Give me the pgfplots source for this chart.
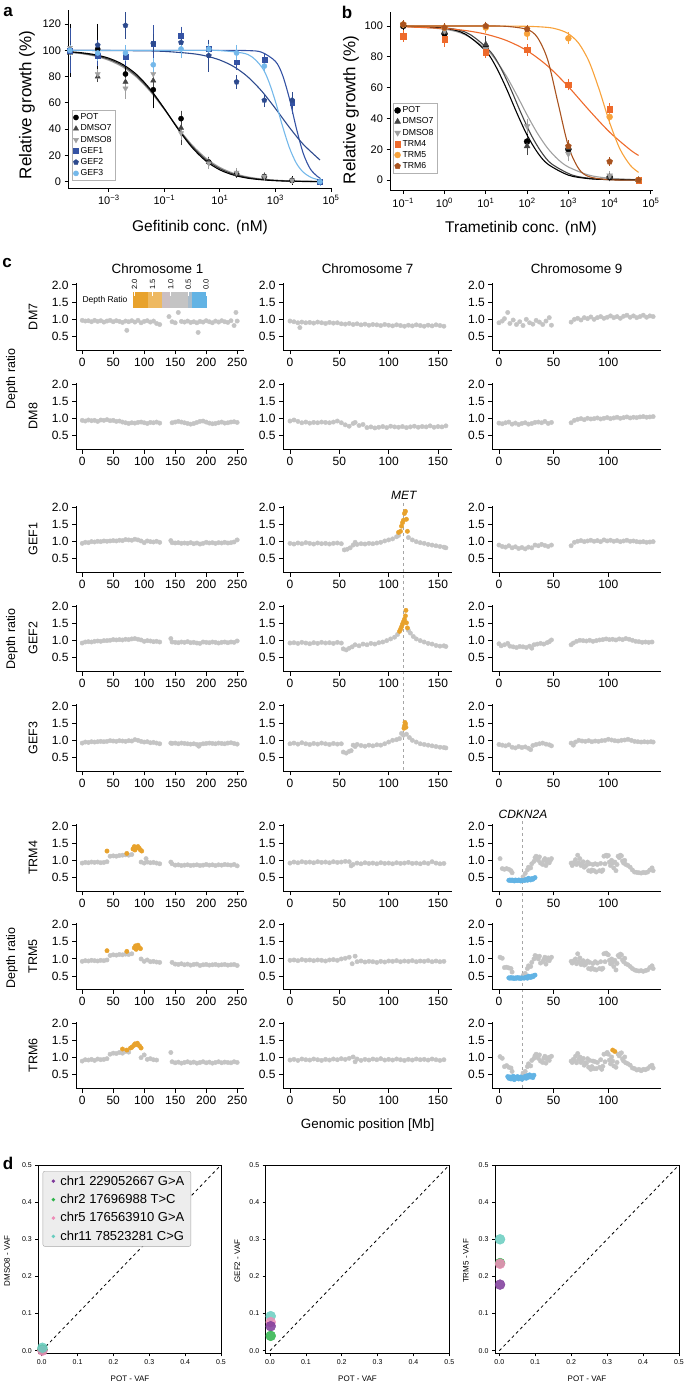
\documentclass[border=0pt]{standalone}
\usepackage{fontspec}
\setmainfont{Liberation Sans}
\usepackage{pgfplots}
\pgfplotsset{compat=1.18}
\usetikzlibrary{plotmarks}

\definecolor{cgray}{HTML}{C4C4C4}
\definecolor{camp}{HTML}{E8A22C}
\definecolor{cdel}{HTML}{62B3E4}
\definecolor{cbpink}{HTML}{CBBFC3}
\definecolor{cbgb}{HTML}{A8BCCB}
\definecolor{dmsoA}{HTML}{444444}
\definecolor{dmsoB}{HTML}{A0A0A0}
\definecolor{gefA}{HTML}{3553A4}
\definecolor{gefB}{HTML}{2D4A8E}
\definecolor{gefC}{HTML}{74B8EA}
\definecolor{trmA}{HTML}{EE6A2B}
\definecolor{trmB}{HTML}{F8A23A}
\definecolor{trmC}{HTML}{A9531F}
\definecolor{dpurple}{HTML}{7E3A9A}
\definecolor{dgreen}{HTML}{2DB34A}
\definecolor{dpink}{HTML}{EE8DB8}
\definecolor{dteal}{HTML}{68CDBF}

\pgfplotsset{
  /pgf/number format/assume math mode=true,
  every axis/.append style={scale only axis, anchor=south west},
  curve/.style={smooth, line width=1.1pt, forget plot, mark=none},
  eb/.style={error bars/.cd, y dir=both, y explicit,
    error bar style={line width=0.8pt}, error mark options={line width=0.8pt, mark size=2.8pt}},
  dr/.style={axis lines=left, axis line style={-, line width=1pt},
    tick align=outside, major tick length=4pt, every tick/.style={black, line width=0.9pt},
    height=67.1pt, ymin=0.1, ymax=2.05, ytick={0.5,1,1.5,2},
    ticklabel style={font=\fontsize{12}{13}\selectfont},
    yticklabel style={/pgf/number format/fixed, /pgf/number format/fixed zerofill, /pgf/number format/precision=1}},
  c1/.style={width=168pt, xmin=-10, xmax=261, xtick={0,50,...,250}},
  c7/.style={width=169.3pt, xmin=-7.1, xmax=164.5, xtick={0,50,100,150}},
  c9/.style={width=168.7pt, xmin=-6.1, xmax=148.2, xtick={0,50,100}},
  gr/.style={only marks, mark=*, mark size=2.2pt, color=cgray},
  amp/.style={only marks, mark=*, mark size=2.2pt, color=camp},
  del/.style={only marks, mark=*, mark size=2.2pt, color=cdel},
  vaf/.style={axis lines=box, axis line style={line width=0.7pt}, tick align=outside,
    xtick pos=lower, ytick pos=left, major tick length=3pt, every tick/.style={black, line width=0.6pt},
    height=188.3pt, ymin=-0.007, ymax=0.5, xmax=0.5,
    xtick={0,0.1,0.2,0.3,0.4,0.5}, ytick={0,0.1,0.2,0.3,0.4,0.5},
    ticklabel style={font=\fontsize{7}{8}\selectfont, /pgf/number format/fixed, /pgf/number format/fixed zerofill, /pgf/number format/precision=1}},
  pt/.style={only marks, mark=*, mark size=5pt, opacity=0.85},
  dleg/.style={legend image code/.code={\path[draw=none, fill=none] (0,-1pt) rectangle (1.1em,1pt); \fill[#1, draw=none, opacity=1, fill opacity=1] (0.45em,0) circle (1.9pt);}},
  drc/.style={axis lines=left, axis line style={-, line width=1pt},
    tick align=outside, major tick length=3.5pt, every tick/.style={black, line width=0.9pt},
    ticklabel style={font=\fontsize{11}{12}\selectfont},
    legend style={font=\fontsize{8.7}{9}\selectfont, draw=black!30, row sep=-0.4pt, inner sep=1.5pt},
    legend cell align=left},
}

\begin{document}
\begin{tikzpicture}[x=1pt,y=1pt]
\useasboundingbox (0,0) rectangle (685,-1384);

% ---------------- panel a ----------------
\node[font=\fontsize{17}{17}\bfseries\selectfont] at (8,-12) {a};
\begin{axis}[drc, at={(68pt,-188.3pt)}, width=263pt, height=178.3pt,
  xmin=-4.47, xmax=5.0, ymin=-5.0, ymax=130.7,
  xtick={-3,-1,1,3,5}, xticklabels={10\textsuperscript{−3},10\textsuperscript{−1},10\textsuperscript{1},10\textsuperscript{3},10\textsuperscript{5}},
  ytick={0,20,...,120},
  legend style={at={(0.014,0.439)}, anchor=north west}]
\addplot[curve, dmsoB] coordinates {(-4.4,98.4)(-4,97.5)(-3.5,95.6)(-3,92.4)(-2.5,87.3)(-2,79.5)(-1.5,68.5)(-1,55.0)(-0.5,40.8)(0,27.9)(0.5,17.9)(1,10.9)(1.5,6.4)(2,3.7)(2.5,2.1)(3,1.2)(3.5,0.7)(4,0.4)(4.6,0.2)};
\addplot[curve, dmsoA] coordinates {(-4.4,98.6)(-4,97.8)(-3.5,96.1)(-3,93.2)(-2.5,88.3)(-2,80.5)(-1.5,69.3)(-1,55.3)(-0.5,40.3)(0,27.0)(0.5,16.8)(1,10.0)(1.5,5.7)(2,3.2)(2.5,1.8)(3,1.0)(3.5,0.5)(4,0.3)(4.6,0.1)};
\addplot[curve, black] coordinates {(-4.4,98.9)(-4,98.2)(-3.5,96.7)(-3,94.0)(-2.5,89.3)(-2,81.6)(-1.5,70.2)(-1,55.6)(-0.5,39.9)(0,26.0)(0.5,15.7)(1,9.0)(1.5,5.0)(2,2.7)(2.5,1.5)(3,0.8)(3.5,0.4)(4,0.2)(4.6,0.1)};
\addplot[curve, gefA] coordinates {(-4.4,100)(0,100)(1,100)(2,99.8)(2.5,98.6)(3,91.6)(3.25,81.4)(3.5,63.5)(3.75,40.9)(4,21.6)(4.25,9.9)(4.5,4.2)(4.6,2.9)};
\addplot[curve, gefB] coordinates {(-4.4,100)(-2,99.7)(-1,99.2)(0,97.5)(0.5,95.7)(1,92.6)(1.5,87.6)(2,79.9)(2.5,69.1)(3,55.7)(3.5,41.4)(4,28.5)(4.6,16.6)};
\addplot[curve, gefC] coordinates {(-4.4,100)(0,100)(1,99.8)(2,96.9)(2.5,87.5)(2.75,76.8)(3,61.0)(3.25,42.6)(3.5,26.0)(3.75,14.2)(4,7.3)(4.3,3.1)(4.6,1.3)};
\addplot[only marks, mark=*, mark size=2.6pt, black, eb] coordinates {(-4.4,100)+-(0,18)(-3.4,101)+-(0,17)(-2.4,82)+-(0,5)(-1.4,70)+-(0,12)(-0.4,48)+-(0,4)(0.6,15)+-(0,2)(1.6,6)+-(0,1)(2.6,4)+-(0,1)(3.6,1)+-(0,1)(4.6,0)+-(0,0.5)};
\addlegendentry{POT}
\addplot[only marks, mark=triangle*, mark size=3pt, dmsoA, eb] coordinates {(-4.4,98)+-(0,6)(-3.4,80)+-(0,2)(-2.4,76)+-(0,4)(-1.4,77)+-(0,5)(-0.4,41)+-(0,11)(0.6,15)+-(0,2)(1.6,6)+-(0,1)(2.6,4)+-(0,1)(3.6,1)+-(0,0.5)(4.6,0)+-(0,0.5)};
\addlegendentry{DMSO7}
\addplot[only marks, mark=triangle*, mark size=3pt, mark options={rotate=180}, dmsoB, eb] coordinates {(-4.4,102)+-(0,4)(-3.4,82)+-(0,2)(-2.4,71)+-(0,6)(-1.4,82)+-(0,3)(-0.4,37)+-(0,3)(0.6,14)+-(0,2)(1.6,7)+-(0,1)(2.6,4)+-(0,1)(3.6,1)+-(0,0.5)(4.6,0)+-(0,0.5)};
\addlegendentry{DMSO8}
\addplot[only marks, mark=square*, mark size=2.4pt, gefA, eb] coordinates {(-4.4,100)+-(0,15)(-3.4,96)+-(0,6)(-2.4,95)+-(0,5)(-1.4,105)+-(0,12)(-0.4,111)+-(0,5)(0.6,101)+-(0,4)(1.6,91)+-(0,4)(2.6,93)+-(0,2)(3.6,60)+-(0,6)(4.6,0)+-(0,1)};
\addlegendentry{GEF1}
\addplot[only marks, mark=pentagon*, mark size=2.7pt, gefB, eb] coordinates {(-4.4,100)+-(0,5)(-3.4,104)+-(0,2)(-2.4,119)+-(0,8)(-1.4,105)+-(0,5)(-0.4,106)+-(0,4)(0.6,96)+-(0,10)(1.6,76)+-(0,3)(2.6,62)+-(0,3)(3.6,62)+-(0,4)(4.6,0)+-(0,1)};
\addlegendentry{GEF2}
\addplot[only marks, mark=*, mark size=2.6pt, gefC, eb] coordinates {(-4.4,100)+-(0,2)(-3.4,98)+-(0,4)(-2.4,98)+-(0,4)(-1.4,89)+-(0,3)(-0.4,101)+-(0,5)(0.6,101)+-(0,2)(1.6,98)+-(0,4)(2.6,88)+-(0,2)(4.6,0)+-(0,1)};
\addlegendentry{GEF3}
\end{axis}
\node[rotate=90, font=\fontsize{17}{17}\selectfont] at (27,-105) {Relative growth (\%)};
\node[font=\fontsize{15.5}{15.5}\selectfont] at (200,-227) {Gefitinib conc. (nM)};

% ---------------- panel b ----------------
\node[font=\fontsize{17}{17}\bfseries\selectfont] at (347,-12) {b};
\begin{axis}[drc, at={(390pt,-190.7pt)}, width=263pt, height=178.7pt,
  xmin=-1.32, xmax=5.05, ymin=-6.9, ymax=109.1,
  xtick={-1,0,1,2,3,4,5}, xticklabels={10\textsuperscript{−1},10\textsuperscript{0},10\textsuperscript{1},10\textsuperscript{2},10\textsuperscript{3},10\textsuperscript{4},10\textsuperscript{5}},
  ytick={0,20,...,100},
  legend style={at={(0.011,0.491)}, anchor=north west}]
\addplot[curve, dmsoB] coordinates {(-1,99.9)(0,97.9)(0.5,94.3)(1,85.3)(1.25,77.6)(1.5,67.4)(1.75,55.2)(2,42.3)(2.25,30.4)(2.5,20.6)(2.75,13.4)(3,8.5)(3.5,3.2)(4,1.2)(4.7,0.3)};
\addplot[curve, dmsoA] coordinates {(-1,99.9)(0.1,98.5)(0.6,94.8)(1.1,83.8)(1.35,73.4)(1.6,59.4)(1.85,43.7)(2.1,29.2)(2.35,18.0)(2.6,10.4)(3.1,3.2)(3.6,0.9)(4.1,0.3)(4.7,0.1)};
\addplot[curve, black] coordinates {(-1,99.9)(0,98.5)(0.5,94.8)(1,83.8)(1.25,73.4)(1.5,59.4)(1.75,43.7)(2,29.2)(2.25,18.0)(2.5,10.4)(3,3.2)(3.5,0.9)(4,0.3)(4.7,0.1)};
\addplot[curve, trmA] coordinates {(-1,99.5)(0,98.4)(0.5,97.1)(1,94.7)(1.5,90.6)(2,84.0)(2.5,74.0)(3,60.6)(3.5,45.4)(4,31.1)(4.5,19.6)(4.7,16.0)};
\addplot[curve, trmB] coordinates {(-1,100)(1,100)(2,99.8)(2.5,99.1)(2.75,97.8)(3,95.0)(3.25,88.8)(3.5,77.0)(3.75,58.5)(4,37.3)(4.25,20.1)(4.5,9.6)(4.7,5.0)};
\addplot[curve, trmC] coordinates {(-1,100)(1,100)(1.5,99.8)(2,97.8)(2.25,92.6)(2.5,78.0)(2.75,50.0)(3,22.0)(3.25,7.4)(3.5,2.2)(4,0.2)(4.7,0)};
\addplot[only marks, mark=*, mark size=3pt, black, eb] coordinates {(-1,100)+-(0,1)(0,95)+-(0,2)(1,86)+-(0,3)(2,25)+-(0,3)(3,20)+-(0,2)(4,2)+-(0,1)(4.7,0)+-(0,0.5)};
\addlegendentry{POT}
\addplot[only marks, mark=triangle*, mark size=3.4pt, dmsoA, eb] coordinates {(-1,101)+-(0,1)(0,96)+-(0,1)(1,88)+-(0,4)(2,22)+-(0,4)(3,21)+-(0,2)(4,2)+-(0,1)(4.7,0)+-(0,0.5)};
\addlegendentry{DMSO7}
\addplot[only marks, mark=triangle*, mark size=3.4pt, mark options={rotate=180}, dmsoB, eb] coordinates {(-1,101)+-(0,1)(0,97)+-(0,2)(1,85)+-(0,2)(2,35)+-(0,3)(3,17)+-(0,3)(4,3)+-(0,1)(4.7,0)+-(0,0.5)};
\addlegendentry{DMSO8}
\addplot[only marks, mark=square*, mark size=2.8pt, trmA, eb] coordinates {(-1,93.5)+-(0,2)(0,91.5)+-(0,3)(1,83)+-(0,2)(2,84.5)+-(0,2)(3,62)+-(0,2)(4,46)+-(0,2)(4.7,0)+-(0,0.5)};
\addlegendentry{TRM4}
\addplot[only marks, mark=*, mark size=3pt, trmB, eb] coordinates {(-1,101)+-(0,1)(0,99)+-(0,1)(1,99)+-(0,2)(2,95)+-(0,2)(3,92)+-(0,2)(4,41)+-(0,3)(4.7,0)+-(0,0.5)};
\addlegendentry{TRM5}
\addplot[only marks, mark=pentagon*, mark size=3.1pt, trmC, eb] coordinates {(-1,101)+-(0,1)(0,99)+-(0,1)(1,100)+-(0,1)(2,98)+-(0,1)(3,22)+-(0,2)(4,12)+-(0,1)(4.7,0)+-(0,0.5)};
\addlegendentry{TRM6}
\end{axis}
\node[rotate=90, font=\fontsize{17}{17}\selectfont] at (351,-110) {Relative growth (\%)};
\node[font=\fontsize{15.5}{15.5}\selectfont] at (521,-228) {Trametinib conc. (nM)};

% ---------------- panel c ----------------
\node[font=\fontsize{17}{17}\bfseries\selectfont] at (7,-263) {c};
\node[font=\fontsize{13.4}{13.4}\selectfont] at (157.5,-269) {Chromosome 1};
\node[font=\fontsize{13.4}{13.4}\selectfont] at (367.6,-269) {Chromosome 7};
\node[font=\fontsize{13.4}{13.4}\selectfont] at (576.6,-269) {Chromosome 9};
\node[font=\fontsize{13.4}{13.4}\selectfont] at (367.6,-1125) {Genomic position [Mb]};
\foreach \yy/\lab in {316.8/DM7,416.1/DM8,539.1/GEF1,638.1/GEF2,737.8/GEF3,857.8/TRM4,956.4/TRM5,1055.1/TRM6}
  \node[rotate=90, font=\fontsize{12.5}{13}\selectfont] at (33,-\yy) {\lab};
\foreach \yy in {379,639,958}
  \node[rotate=90, font=\fontsize{12.5}{13}\selectfont] at (12,-\yy) {Depth ratio};
% gene markers
\draw[black!35, dashed, line width=0.8pt] (403.7,-503) -- (403.7,-771.3);
\draw[black!35, dashed, line width=0.8pt] (522.7,-821) -- (522.7,-1088.6);
\node[font=\fontsize{12}{12}\itshape] at (403.7,-495) {MET};
\node[font=\fontsize{12}{12}\itshape] at (523,-814) {CDKN2A};
% colour key
\node[font=\fontsize{8.5}{9}\selectfont] at (105,-300) {Depth Ratio};
\fill[camp] (133.3,-292.3) rectangle (148,-307.7);
\fill[camp!75!white] (148,-292.3) rectangle (161.7,-307.7);
\fill[cbpink] (161.7,-292.3) rectangle (170,-307.7);
\fill[cgray] (170,-292.3) rectangle (188.3,-307.7);
\fill[cbgb] (188.3,-292.3) rectangle (191.7,-307.7);
\fill[cdel] (191.7,-292.3) rectangle (207.3,-307.7);
\foreach \xx/\tl in {134.5/2.0,152.7/1.5,170.7/1.0,188.3/0.5,206/0.0}{
  \draw[white, line width=0.5pt] (\xx,-292.3) -- (\xx,-296);
  \node[rotate=90, anchor=west, inner sep=0.5pt, font=\fontsize{7.5}{7.5}\selectfont] at (\xx,-290) {\tl};}

% DM7
\begin{axis}[dr, c1, at={(76pt,-350.3pt)}]
\addplot[gr] coordinates {(0,.97)(5,.95)(10,.96)(15,.93)(20,.97)(25,.94)(30,.96)(35,.92)(40,.95)(45,.97)(50,.93)(55,.96)(60,.94)(65,.91)(70,.95)(72,.68)(75,.93)(80,.96)(85,.92)(90,.97)(95,.90)(100,.94)(105,.96)(110,.92)(115,.95)(120,.88)(125,.85)(140,1.08)(145,.93)(150,.90)(155,1.20)(160,.94)(165,.92)(170,.95)(175,.91)(180,.93)(185,.90)(187,.62)(190,.94)(195,.92)(200,.96)(205,.93)(210,.90)(215,.95)(220,.92)(225,.96)(230,.93)(235,.91)(240,.96)(245,.82)(248,1.20)(250,.95)};
\end{axis}
\begin{axis}[dr, c7, at={(283pt,-350.3pt)}]
\addplot[gr] coordinates {(0,.95)(4,.93)(8,.90)(10,.76)(12,.92)(16,.90)(20,.91)(24,.89)(28,.92)(32,.90)(36,.88)(40,.91)(44,.89)(48,.90)(52,.87)(56,.86)(60,.88)(64,.85)(68,.87)(72,.84)(76,.86)(80,.83)(84,.85)(88,.84)(92,.82)(96,.85)(100,.83)(104,.81)(108,.84)(112,.82)(116,.80)(120,.83)(124,.81)(128,.84)(132,.82)(136,.80)(140,.83)(144,.81)(148,.84)(152,.82)(156,.80)};
\end{axis}
\begin{axis}[dr, c9, at={(492.3pt,-350.3pt)}]
\addplot[gr] coordinates {(0,.90)(3,.95)(5,1.02)(8,1.20)(10,.88)(13,.98)(16,.85)(19,.93)(22,.82)(25,1.00)(28,.90)(31,.86)(34,.97)(37,.92)(40,.85)(43,.95)(46,1.05)(48,.83)(66,.92)(69,1.00)(72,1.03)(75,.98)(78,1.05)(81,1.02)(84,1.07)(87,1.00)(90,1.05)(93,1.08)(96,1.03)(99,1.06)(102,1.10)(105,1.05)(108,1.08)(111,1.03)(114,1.09)(117,1.12)(120,1.06)(123,1.10)(126,1.05)(129,1.08)(132,1.12)(135,1.06)(138,1.10)(141,1.08)};
\end{axis}

% DM8
\begin{axis}[dr, c1, at={(76pt,-449.6pt)}]
\addplot[gr] coordinates {(0,.95)(5,.93)(10,.96)(15,.94)(20,.95)(25,.92)(30,.96)(35,.95)(40,.97)(45,.94)(50,.95)(55,.92)(60,.93)(65,.90)(70,.88)(75,.86)(80,.88)(85,.87)(90,.89)(95,.90)(100,.88)(105,.86)(110,.89)(115,.88)(120,.90)(125,.87)(145,.88)(150,.90)(155,.92)(160,.90)(165,.88)(170,.86)(175,.84)(180,.86)(185,.89)(190,.92)(195,.93)(200,.90)(205,.87)(210,.85)(215,.86)(220,.88)(225,.90)(230,.87)(235,.88)(240,.90)(245,.91)(250,.89)};
\end{axis}
\begin{axis}[dr, c7, at={(283pt,-449.6pt)}]
\addplot[gr] coordinates {(0,.93)(4,.96)(8,.92)(12,.88)(16,.90)(20,.87)(24,.89)(28,.88)(32,.90)(36,.89)(40,.88)(44,.90)(48,.93)(52,.88)(56,.82)(60,.78)(64,.86)(66,.89)(70,.80)(74,.83)(78,.74)(82,.76)(86,.73)(90,.75)(94,.77)(98,.74)(102,.78)(106,.76)(110,.75)(114,.77)(118,.74)(122,.76)(126,.78)(130,.75)(134,.77)(138,.76)(142,.79)(146,.75)(150,.77)(154,.76)(158,.79)};
\end{axis}
\begin{axis}[dr, c9, at={(492.3pt,-449.6pt)}]
\addplot[gr] coordinates {(0,.87)(3,.85)(6,.88)(9,.90)(12,.84)(15,.87)(18,.83)(21,.86)(24,.88)(27,.84)(30,.86)(33,.89)(36,.90)(39,.88)(42,.92)(45,.86)(48,.89)(66,.88)(69,.95)(72,.98)(75,1.00)(78,.97)(81,1.01)(84,.99)(87,1.00)(90,1.02)(93,.99)(96,1.01)(99,1.03)(102,1.00)(105,1.02)(108,1.04)(111,1.01)(114,1.03)(117,1.05)(120,1.02)(123,1.04)(126,1.03)(129,1.05)(132,1.06)(135,1.04)(138,1.05)(141,1.06)};
\end{axis}

% GEF1
\begin{axis}[dr, c1, at={(76pt,-572.6pt)}]
\addplot[gr] coordinates {(0,.95)(5,.98)(10,.97)(15,1.00)(20,.99)(25,1.01)(30,1.00)(35,1.02)(40,1.01)(45,1.02)(50,1.03)(55,1.02)(60,1.04)(65,1.03)(70,1.06)(75,1.05)(80,1.04)(85,1.07)(90,1.05)(95,1.02)(100,.97)(105,1.02)(110,1.00)(115,.99)(120,1.01)(125,.98)(143,1.03)(145,.97)(150,.96)(155,.97)(160,.95)(165,.96)(170,.95)(175,.97)(180,.94)(185,.96)(190,.93)(195,.95)(200,.98)(205,.96)(210,.97)(215,.95)(220,.97)(225,.96)(230,.98)(235,.96)(240,.97)(245,.99)(250,1.05)};
\end{axis}
\begin{axis}[dr, c7, at={(283pt,-572.6pt)}]
\addplot[gr] coordinates {(0,.95)(4,.93)(8,.96)(12,.94)(16,.97)(20,.95)(24,.93)(28,.96)(32,.94)(36,.95)(40,.93)(44,.95)(48,.96)(52,.94)(55,.76)(58,.78)(61,.82)(64,.90)(66,.98)(68,.92)(72,.94)(76,.93)(80,.95)(84,.94)(88,.96)(92,.98)(96,1.02)(100,1.05)(104,1.08)(108,1.14)(110,1.18)(120,1.12)(124,1.05)(128,1.00)(132,.97)(136,.95)(140,.92)(144,.90)(148,.88)(152,.86)(156,.84)(158,.82)};
\addplot[amp] coordinates {(110,1.27)(112,1.30)(113,1.45)(114,1.55)(115,1.62)(116,1.82)(117,1.88)(118,1.65)(119,1.30)};
\end{axis}
\begin{axis}[dr, c9, at={(492.3pt,-572.6pt)}]
\addplot[gr] coordinates {(0,.90)(3,.86)(6,.84)(9,.88)(12,.82)(15,.85)(18,.80)(21,.83)(24,.79)(27,.84)(30,.82)(33,.90)(36,.88)(39,.92)(42,.89)(45,.86)(48,.90)(66,.88)(69,.98)(72,1.01)(75,1.03)(78,1.00)(81,1.02)(84,1.04)(87,1.01)(90,1.03)(93,1.00)(96,1.05)(99,1.02)(102,1.04)(105,1.01)(108,1.03)(111,1.00)(114,1.02)(117,1.04)(120,1.01)(123,1.02)(126,1.00)(129,.99)(132,1.00)(135,.98)(138,.99)(141,1.00)};
\end{axis}

% GEF2
\begin{axis}[dr, c1, at={(76pt,-671.6pt)}]
\addplot[gr] coordinates {(0,.93)(5,.96)(10,.97)(15,.96)(20,.98)(25,.99)(30,.98)(35,1.00)(40,1.00)(45,1.01)(50,1.03)(55,1.02)(60,1.03)(65,1.02)(70,1.04)(75,1.03)(80,1.05)(85,1.06)(90,1.04)(95,1.02)(100,.98)(105,1.00)(110,.99)(115,.97)(120,.98)(125,.96)(143,1.06)(145,.96)(150,.95)(155,.94)(160,.96)(165,.95)(170,.97)(175,.94)(180,.95)(185,.93)(190,.92)(195,.96)(200,.95)(205,.94)(210,.96)(215,.95)(220,.93)(225,.95)(230,.96)(235,.94)(240,.96)(245,.95)(250,.99)};
\end{axis}
\begin{axis}[dr, c7, at={(283pt,-671.6pt)}]
\addplot[gr] coordinates {(0,.93)(4,.94)(8,.92)(12,.95)(16,.93)(20,.91)(24,.94)(28,.92)(32,.95)(36,.93)(40,.94)(44,.92)(48,.95)(52,.93)(54,.76)(57,.73)(60,.78)(63,.82)(66,.88)(70,.85)(74,.90)(78,.88)(82,.92)(86,.90)(90,.94)(94,.96)(98,1.00)(102,1.05)(106,1.10)(109,1.18)(120,1.30)(122,1.22)(125,1.12)(128,1.05)(132,1.00)(136,.96)(140,.92)(144,.90)(148,.86)(152,.84)(156,.85)(158,.83)};
\addplot[amp] coordinates {(111,1.27)(112,1.33)(113,1.40)(114,1.48)(115,1.55)(116,1.62)(117,1.72)(117.5,1.88)(118,1.52)(119,1.37)};
\end{axis}
\begin{axis}[dr, c9, at={(492.3pt,-671.6pt)}]
\addplot[gr] coordinates {(0,.91)(2,.85)(5,.88)(8,.92)(10,.84)(13,.82)(16,.80)(19,.83)(22,.82)(25,.80)(28,.84)(30,.78)(32,.88)(35,.90)(38,.92)(41,.90)(44,.94)(46,.97)(48,1.02)(66,.88)(68,.93)(71,.98)(74,1.01)(77,1.00)(80,.99)(83,1.01)(86,.98)(89,1.00)(92,1.02)(95,1.03)(98,1.05)(101,1.03)(104,1.04)(107,1.02)(110,1.05)(113,1.03)(116,1.06)(119,1.04)(122,1.01)(125,.98)(128,.97)(131,.95)(134,.96)(137,.95)(140,.96)};
\end{axis}

% GEF3
\begin{axis}[dr, c1, at={(76pt,-771.3pt)}]
\addplot[gr] coordinates {(0,.92)(5,.95)(10,.94)(15,.96)(20,.95)(25,.96)(30,.97)(35,.96)(40,.97)(45,.99)(50,.98)(55,.97)(60,.99)(65,.98)(70,.97)(75,.99)(80,.98)(85,1.02)(90,1.00)(95,.97)(100,.95)(105,.96)(110,.93)(115,.94)(120,.92)(125,.90)(143,.92)(145,.91)(150,.92)(155,.90)(160,.92)(165,.91)(170,.90)(175,.89)(180,.90)(185,.88)(188,.83)(190,.88)(195,.90)(200,.91)(205,.92)(210,.91)(215,.90)(220,.92)(225,.91)(230,.90)(235,.92)(240,.93)(245,.91)(250,.89)};
\end{axis}
\begin{axis}[dr, c7, at={(283pt,-771.3pt)}]
\addplot[gr] coordinates {(0,.90)(4,.92)(8,.89)(12,.93)(16,.90)(20,.88)(24,.91)(28,.89)(32,.92)(36,.90)(40,.88)(44,.91)(48,.89)(52,.90)(54,.66)(57,.63)(60,.68)(62,.70)(64,.86)(66,.82)(68,.88)(72,.85)(76,.83)(80,.86)(84,.84)(88,.87)(92,.86)(96,.90)(100,.95)(104,1.00)(108,1.02)(111,1.05)(113,1.20)(115,1.15)(118,1.18)(121,1.08)(124,1.00)(128,.95)(132,.90)(136,.88)(140,.86)(144,.84)(148,.82)(152,.80)(156,.79)(158,.78)};
\addplot[amp] coordinates {(115.5,1.35)(116,1.42)(116.5,1.52)(117,1.48)(117.5,1.38)};
\end{axis}
\begin{axis}[dr, c9, at={(492.3pt,-771.3pt)}]
\addplot[gr] coordinates {(0,.88)(3,.86)(6,.84)(9,.87)(12,.80)(15,.78)(18,.82)(21,.79)(24,.81)(27,.77)(29,.73)(31,.85)(34,.88)(37,.90)(40,.92)(43,.89)(46,.87)(48,.84)(66,.92)(68,.86)(70,.95)(73,1.00)(76,.98)(79,.97)(82,.99)(85,.96)(88,.98)(91,.97)(94,.99)(97,1.00)(100,1.03)(103,1.01)(106,.99)(109,.98)(112,1.00)(115,1.01)(118,1.03)(121,1.00)(124,.97)(127,.96)(130,.95)(133,.96)(136,.95)(139,.96)(141,.95)};
\end{axis}

% TRM4
\begin{axis}[dr, c1, at={(76pt,-891.3pt)}]
\addplot[gr] coordinates {(0,.92)(5,.94)(10,.93)(15,.95)(20,.94)(25,.95)(30,.93)(35,.94)(40,.96)(45,1.12)(50,1.13)(55,1.12)(60,1.14)(65,1.15)(70,1.16)(75,1.15)(80,1.17)(95,.95)(100,.92)(103,1.05)(105,.95)(110,.93)(115,.94)(120,.92)(125,.90)(143,.95)(145,.90)(150,.86)(155,.87)(160,.85)(165,.86)(170,.87)(175,.85)(180,.86)(185,.87)(190,.85)(195,.86)(200,.88)(205,.86)(210,.87)(215,.85)(220,.87)(225,.86)(230,.88)(235,.87)(240,.86)(245,.88)(250,.84)};
\addplot[amp] coordinates {(40,1.27)(72,1.20)(82,1.33)(84,1.40)(85,1.30)(86,1.38)(88,1.36)(90,1.40)(92,1.35)(94,1.30)(96,1.27)};
\end{axis}
\begin{axis}[dr, c7, at={(283pt,-891.3pt)}]
\addplot[gr] coordinates {(0,.92)(4,.95)(8,.93)(12,.96)(16,.94)(20,.95)(24,.93)(28,.96)(32,.94)(36,.95)(40,.93)(44,.96)(48,.94)(52,.95)(56,.97)(60,.96)(62,.84)(64,.88)(68,.92)(72,.90)(76,.93)(80,.91)(84,.92)(88,.90)(92,.93)(96,.91)(100,.92)(104,.90)(108,.93)(112,.91)(116,.92)(120,.94)(124,.91)(128,.92)(132,.90)(136,.93)(140,.91)(144,.96)(148,.92)(152,.90)(156,.91)};
\end{axis}
\begin{axis}[dr, c9, at={(492.3pt,-891.3pt)}]
\addplot[gr] coordinates {(1,1.05)(3,.76)(5,.74)(7,.76)(9,.74)(11,.70)(12,.64)(22,.52)(24,.62)(26,.72)(27,.80)(29,.78)(30,.90)(32,.97)(33,1.08)(34,1.12)(35,1.05)(36,1.00)(37,1.10)(38,.92)(40,.88)(41,1.00)(42,1.05)(43,.85)(44,.95)(45,1.02)(46,.93)(47,1.00)(48,1.05)(66,.92)(67,.85)(68,.90)(69,.95)(70,1.02)(71,.88)(72,1.15)(73,.93)(74,1.05)(75,.85)(76,.90)(77,.96)(78,.80)(79,.83)(80,.86)(81,.95)(82,.70)(83,.90)(84,.68)(85,.72)(86,.88)(87,.70)(88,.90)(89,.66)(90,.88)(92,.70)(93,.91)(94,.68)(95,.72)(96,1.12)(97,.90)(98,1.15)(99,1.12)(100,1.14)(101,.95)(102,.85)(103,1.00)(104,.92)(105,.78)(106,.95)(107,.70)(108,.88)(109,1.12)(110,1.08)(111,1.15)(112,1.13)(113,.98)(114,.92)(115,1.00)(116,.88)(118,.85)(120,.80)(122,.72)(124,.66)(126,.65)(128,.64)(130,.63)(132,.65)(134,.64)(136,.66)(138,.72)(140,.78)(141,.70)};
\addplot[del] coordinates {(9,.42)(10,.43)(11,.41)(12,.43)(13,.42)(14,.40)(15,.43)(16,.42)(17,.41)(18,.43)(19,.42)(20,.40)(21,.42)(23,.41)(24,.43)(25,.45)(26,.42)(27,.48)(28,.45)(29,.43)(30,.47)(31,.45)(32,.48)(33,.50)};
\end{axis}

% TRM5
\begin{axis}[dr, c1, at={(76pt,-989.9pt)}]
\addplot[gr] coordinates {(0,.93)(5,.95)(10,.94)(15,.96)(20,.95)(25,.94)(30,.96)(35,.95)(40,.97)(45,1.10)(50,1.12)(55,1.11)(60,1.13)(65,1.12)(70,1.14)(75,1.13)(80,1.15)(95,1.00)(100,.93)(105,.97)(110,.92)(115,.93)(120,.91)(125,.90)(145,.90)(150,.85)(155,.84)(160,.86)(165,.83)(170,.85)(175,.82)(180,.84)(185,.85)(190,.81)(195,.83)(200,.84)(205,.82)(210,.83)(215,.84)(220,.82)(225,.83)(230,.84)(235,.82)(240,.83)(245,.84)(250,.81)};
\addplot[amp] coordinates {(40,1.24)(72,1.22)(84,1.32)(86,1.38)(87,1.28)(88,1.35)(90,1.40)(92,1.33)(94,1.30)};
\end{axis}
\begin{axis}[dr, c7, at={(283pt,-989.9pt)}]
\addplot[gr] coordinates {(0,.96)(4,.97)(8,.95)(12,.98)(16,.96)(20,.97)(24,.95)(28,.97)(32,.96)(36,.94)(40,.97)(44,.98)(48,.96)(52,1.00)(56,1.02)(60,1.05)(63,.86)(66,1.08)(68,.92)(72,.94)(76,.91)(80,.93)(84,.92)(88,.90)(92,.93)(96,.91)(100,.94)(104,.93)(108,.95)(112,.92)(116,.94)(120,.93)(124,.95)(128,.92)(132,.94)(136,.93)(140,.95)(144,.92)(148,.94)(152,.92)(156,.93)};
\end{axis}
\begin{axis}[dr, c9, at={(492.3pt,-989.9pt)}]
\addplot[gr] coordinates {(1,1.05)(3,1.02)(5,.75)(7,.76)(9,.74)(11,.72)(12,.62)(22,.52)(24,.58)(26,.72)(27,.80)(29,.78)(30,.90)(32,1.00)(33,1.10)(34,1.08)(35,1.05)(36,1.00)(37,1.08)(38,.88)(40,.92)(41,.98)(42,1.05)(43,.85)(44,.97)(45,1.03)(46,.95)(47,1.02)(48,1.05)(66,.93)(67,.88)(68,.92)(69,.96)(70,1.00)(71,.86)(72,1.15)(73,.92)(74,1.03)(75,.84)(76,.90)(77,.95)(78,.82)(79,.84)(80,.88)(81,.94)(82,.72)(83,.90)(84,.70)(85,.74)(86,.87)(87,.70)(88,.92)(89,.68)(90,.88)(92,.72)(93,.92)(94,.70)(95,.73)(96,1.15)(97,.92)(98,1.17)(99,1.14)(100,1.12)(101,.96)(102,.86)(103,1.00)(104,.90)(105,.78)(106,.96)(107,.68)(108,.87)(109,1.10)(110,1.06)(111,1.14)(112,1.12)(113,.97)(114,.92)(115,1.02)(116,.86)(118,.83)(120,.78)(122,.72)(124,.68)(126,.66)(128,.65)(130,.66)(132,.64)(134,.66)(136,.68)(138,.75)(140,.80)(141,.72)};
\addplot[del] coordinates {(9,.45)(10,.44)(11,.46)(12,.44)(13,.45)(14,.43)(15,.45)(16,.44)(17,.46)(18,.44)(19,.45)(20,.43)(21,.45)(23,.44)(24,.46)(25,.47)(26,.44)(27,.50)(28,.48)(29,.46)(30,.50)(31,.48)(32,.52)(33,.53)};
\end{axis}

% TRM6
\begin{axis}[dr, c1, at={(76pt,-1088.6pt)}]
\addplot[gr] coordinates {(0,.90)(5,.94)(10,.93)(15,.95)(20,.92)(25,.96)(30,.94)(35,.95)(40,.97)(45,1.10)(50,1.13)(55,1.12)(60,1.15)(65,1.13)(70,1.18)(75,1.16)(95,1.00)(100,1.08)(105,.95)(110,.97)(115,.94)(120,.93)(143,1.15)(145,.88)(150,.85)(155,.87)(160,.84)(165,.86)(170,.88)(175,.85)(180,.87)(185,.84)(190,.86)(195,.88)(200,.85)(205,.87)(210,.84)(215,.86)(220,.88)(225,.85)(230,.87)(235,.86)(240,.85)(245,.88)(250,.86)};
\addplot[amp] coordinates {(65,1.25)(72,1.22)(78,1.28)(80,1.30)(83,1.35)(85,1.40)(87,1.38)(89,1.42)(91,1.36)(93,1.33)(95,1.28)};
\end{axis}
\begin{axis}[dr, c7, at={(283pt,-1088.6pt)}]
\addplot[gr] coordinates {(0,.93)(4,.95)(8,.92)(12,.96)(16,.94)(20,.93)(24,.96)(28,.94)(32,.92)(36,.95)(40,.93)(44,.96)(48,.94)(52,.97)(56,.95)(60,.98)(64,1.02)(66,.88)(68,.96)(72,.92)(76,.95)(80,.93)(84,.96)(88,.94)(92,.97)(96,.93)(100,.95)(104,.93)(108,.96)(112,.94)(116,.92)(120,.95)(124,.93)(128,.96)(132,.94)(136,.95)(140,.93)(144,.96)(148,.94)(152,.92)(156,.94)};
\end{axis}
\begin{axis}[dr, c9, at={(492.3pt,-1088.6pt)}]
\addplot[gr] coordinates {(1,1.03)(3,.98)(5,.74)(7,.77)(9,.72)(11,.70)(12,.60)(22,.55)(24,.60)(26,.74)(27,.82)(29,.76)(30,.92)(32,.98)(33,1.06)(34,1.10)(35,1.03)(36,.98)(37,1.08)(38,.90)(40,.86)(41,.98)(42,1.04)(43,.84)(44,.96)(45,1.00)(46,.92)(47,1.02)(48,1.04)(66,.90)(67,.86)(68,.95)(69,.92)(70,1.04)(71,.85)(72,1.12)(73,.95)(74,1.02)(75,.86)(76,.92)(77,.98)(78,.78)(79,.85)(80,.84)(81,.97)(82,.72)(83,.92)(84,.66)(85,.74)(86,.90)(87,.68)(88,.88)(89,.68)(90,.86)(92,.72)(93,.94)(94,.66)(95,.75)(96,1.10)(97,.88)(98,1.12)(99,1.15)(100,1.10)(101,.93)(102,.82)(103,1.02)(104,.90)(105,.76)(107,.72)(108,.86)(109,1.10)(110,1.05)(111,1.12)(112,1.14)(113,.96)(114,.90)(115,1.02)(116,.85)(118,.82)(120,.78)(122,.70)(124,.68)(126,.64)(128,.66)(130,.62)(132,.66)(134,.65)(136,.68)(138,.74)(140,.78)(141,.70)};
\addplot[del] coordinates {(8,.45)(9,.40)(10,.44)(11,.38)(12,.42)(13,.46)(14,.36)(15,.43)(16,.40)(17,.45)(18,.38)(19,.42)(20,.44)(21,.37)(23,.41)(24,.46)(25,.40)(26,.48)(27,.43)(28,.50)(29,.44)(30,.47)(31,.42)(32,.49)};
\addplot[amp] coordinates {(104,1.22)(106,1.18)};
\end{axis}

% ---------------- panel d ----------------
\node[font=\fontsize{17}{17}\bfseries\selectfont] at (8,-1163) {d};
\begin{axis}[vaf, at={(38.3pt,-1353.3pt)}, width=182.7pt, xmin=-0.0095,
  legend style={at={(0.024,0.968)}, anchor=north west, fill=black!7, draw=black!35, rounded corners=2pt,
    font=\fontsize{13}{15}\selectfont, row sep=6.5pt, inner xsep=6pt, inner ysep=4pt,
    nodes={inner sep=0.5pt}},
  legend cell align=left]
\addplot[black, dashed, line width=0.8pt, forget plot] coordinates {(0,0)(0.5,0.5)};
\addplot[pt, dpurple, dleg=dpurple] coordinates {(0.002,0.002)};
\addlegendentry{chr1 229052667 G>A}
\addplot[pt, dgreen, dleg=dgreen] coordinates {(0.002,0.003)};
\addlegendentry{chr2 17696988 T>C}
\addplot[pt, dpink, dleg=dpink] coordinates {(0.002,0.0)};
\addlegendentry{chr5 176563910 G>A}
\addplot[pt, dteal, dleg=dteal] coordinates {(0.002,0.008)};
\addlegendentry{chr11 78523281 C>G}
\end{axis}
\begin{axis}[vaf, at={(265.7pt,-1353.3pt)}, width=183.6pt, xmin=-0.012]
\addplot[black, dashed, line width=0.8pt] coordinates {(0,0)(0.5,0.5)};
\addplot[pt, dteal] coordinates {(0.002,0.093)};
\addplot[pt, dpink] coordinates {(0.002,0.077)};
\addplot[pt, dpurple] coordinates {(0.002,0.066)};
\addplot[pt, dgreen] coordinates {(0.002,0.040)};
\end{axis}
\begin{axis}[vaf, at={(495pt,-1353.3pt)}, width=184pt, xmin=-0.012]
\addplot[black, dashed, line width=0.8pt] coordinates {(0,0)(0.5,0.5)};
\addplot[pt, dteal] coordinates {(0.002,0.300)};
\addplot[pt, dgreen] coordinates {(0.002,0.236)};
\addplot[pt, dpink] coordinates {(0.002,0.234)};
\addplot[pt, dpurple] coordinates {(0.002,0.178)};
\end{axis}
\foreach \xx in {130,357.5,587}
  \node[font=\fontsize{8}{8}\selectfont] at (\xx,-1379) {POT - VAF};
\node[rotate=90, font=\fontsize{8}{8}\selectfont] at (7,-1261) {DMSO8 - VAF};
\node[rotate=90, font=\fontsize{8}{8}\selectfont] at (237.3,-1261) {GEF2 - VAF};
\node[rotate=90, font=\fontsize{8}{8}\selectfont] at (466,-1261) {TRM5 - VAF};
\end{tikzpicture}
\end{document}
